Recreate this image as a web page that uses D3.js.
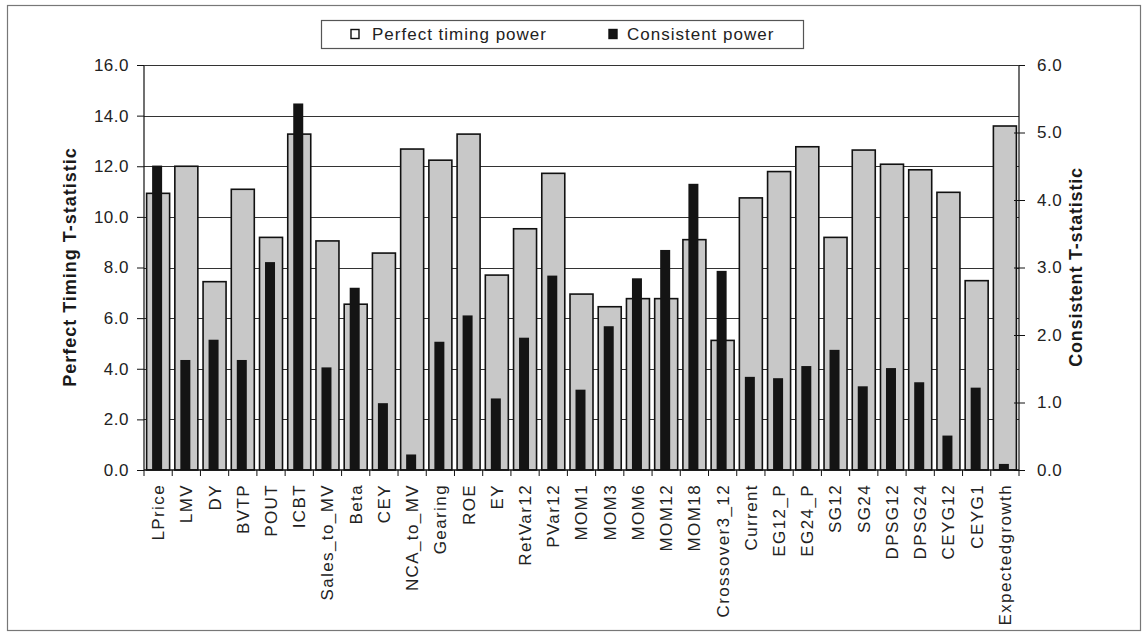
<!DOCTYPE html>
<html>
<head>
<meta charset="utf-8">
<script src="https://cdn.jsdelivr.net/npm/d3@7"></script>
<style>
  html, body { margin: 0; padding: 0; background: #fff; }
  svg { display: block; font-family: "Liberation Sans", Arial, sans-serif; }
</style>
</head>
<body>
<svg id="chart" width="1142" height="633"></svg>
<script>
// Factor names along the x axis
const categories = ["LPrice", "LMV", "DY", "BVTP", "POUT", "ICBT", "Sales_to_MV", "Beta", "CEY",
  "NCA_to_MV", "Gearing", "ROE", "EY", "RetVar12", "PVar12", "MOM1", "MOM3", "MOM6", "MOM12",
  "MOM18", "Crossover3_12", "Current", "EG12_P", "EG24_P", "SG12", "SG24", "DPSG12", "DPSG24",
  "CEYG12", "CEYG1", "Expectedgrowth"];

// Perfect timing T-statistic (left axis)
const perfectTiming = [10.93, 12.0, 7.44, 11.09, 9.19, 13.27, 9.05, 6.55, 8.57, 12.68, 12.24,
  13.27, 7.70, 9.53, 11.72, 6.95, 6.45, 6.77, 6.77, 9.10, 5.12, 10.75, 11.79, 12.77, 9.19,
  12.64, 12.08, 11.86, 10.97, 7.48, 13.59];

// Consistent T-statistic (right axis)
const consistent = [4.51, 1.63, 1.93, 1.63, 3.08, 5.43, 1.52, 2.70, 0.99, 0.23, 1.90, 2.29,
  1.06, 1.96, 2.88, 1.19, 2.13, 2.84, 3.26, 4.24, 2.95, 1.38, 1.36, 1.54, 1.78, 1.24, 1.51,
  1.30, 0.51, 1.22, 0.09];

const leftTicks = [0, 2, 4, 6, 8, 10, 12, 14, 16];
const rightTicks = [0, 1, 2, 3, 4, 5, 6];
const seriesNames = ["Perfect timing power", "Consistent power"];

const svg = d3.select("#chart");
const plot = { left: 144, right: 1019, top: 65, bottom: 470 };

const x = d3.scaleBand().domain(categories).range([plot.left, plot.right]);
const yL = d3.scaleLinear().domain([0, 16]).range([plot.bottom, plot.top]);
const yR = d3.scaleLinear().domain([0, 6]).range([plot.bottom, plot.top]);

// Outer frame
svg.append("rect")
  .attr("x", 7.5).attr("y", 5.5).attr("width", 1133).attr("height", 625)
  .attr("fill", "none").attr("stroke", "#777").attr("stroke-width", 1.2);

// Horizontal gridlines at the left-axis ticks
svg.append("g").selectAll("line").data(leftTicks.filter(d => d > 0)).join("line")
  .attr("x1", plot.left).attr("x2", plot.right)
  .attr("y1", d => Math.round(yL(d)) + 0.5).attr("y2", d => Math.round(yL(d)) + 0.5)
  .attr("stroke", "#333").attr("stroke-width", 1);

// Perfect timing bars (grey, outlined)
const greyW = 23;
svg.append("g").selectAll("rect").data(categories).join("rect")
  .attr("x", (d) => x(d) + x.bandwidth() / 2 - greyW / 2)
  .attr("y", (d, i) => yL(perfectTiming[i]))
  .attr("width", greyW)
  .attr("height", (d, i) => yL(0) - yL(perfectTiming[i]))
  .attr("fill", "#c8c8c8").attr("stroke", "#111").attr("stroke-width", 1.6);

// Consistent bars (black, narrow)
const blackW = 10;
svg.append("g").selectAll("rect").data(categories).join("rect")
  .attr("x", (d) => x(d) + x.bandwidth() / 2 - blackW / 2 - 1)
  .attr("y", (d, i) => yR(consistent[i]))
  .attr("width", blackW)
  .attr("height", (d, i) => yR(0) - yR(consistent[i]))
  .attr("fill", "#141414");

// Left axis
const leftAxis = d3.axisLeft(yL).tickValues(leftTicks).tickFormat(d3.format(".1f"))
  .tickSize(7).tickPadding(8);
const gL = svg.append("g").attr("transform", `translate(${plot.left},0)`).call(leftAxis);
gL.select(".domain").attr("stroke", "#111").attr("stroke-width", 1.2).attr("d", `M0,${plot.bottom}V${plot.top}`);
gL.selectAll(".tick line").attr("stroke", "#111");
gL.selectAll(".tick text").attr("font-size", 17).attr("letter-spacing", 0.5)
  .attr("fill", "#222").attr("font-family", "Liberation Sans, Arial, sans-serif");

// Right axis with crossing tick marks
const rightAxis = d3.axisRight(yR).tickValues(rightTicks).tickFormat(d3.format(".1f"))
  .tickSize(6).tickPadding(12);
const gR = svg.append("g").attr("transform", `translate(${plot.right},0)`).call(rightAxis);
gR.select(".domain").attr("stroke", "#111").attr("stroke-width", 1.2).attr("d", `M0,${plot.bottom}V${plot.top}`);
gR.selectAll(".tick line").attr("stroke", "#111").attr("x1", -5).attr("x2", 6);
gR.selectAll(".tick text").attr("font-size", 17).attr("letter-spacing", 0.5)
  .attr("fill", "#222").attr("font-family", "Liberation Sans, Arial, sans-serif");

// Top border of the plot area
svg.append("line").attr("x1", plot.left).attr("x2", plot.right)
  .attr("y1", plot.top + 0.5).attr("y2", plot.top + 0.5)
  .attr("stroke", "#333").attr("stroke-width", 1);

// Bottom category axis: ticks at band boundaries, rotated labels
svg.append("line").attr("x1", plot.left).attr("x2", plot.right)
  .attr("y1", plot.bottom).attr("y2", plot.bottom)
  .attr("stroke", "#111").attr("stroke-width", 1.4);
const bounds = categories.map(c => x(c)).concat([plot.right]);
svg.append("g").selectAll("line").data(bounds).join("line")
  .attr("x1", d => d).attr("x2", d => d)
  .attr("y1", plot.bottom).attr("y2", plot.bottom + 6)
  .attr("stroke", "#111").attr("stroke-width", 1);
svg.append("g").selectAll("text").data(categories).join("text")
  .attr("transform", d => `translate(${x(d) + x.bandwidth() / 2},484) rotate(-90)`)
  .attr("text-anchor", "end").attr("dy", "0.35em")
  .attr("font-size", 17).attr("letter-spacing", 1.4).attr("fill", "#222")
  .text(d => d);

// Axis titles
svg.append("text")
  .attr("transform", "translate(70,267) rotate(-90)")
  .attr("text-anchor", "middle").attr("dy", "0.35em")
  .attr("font-size", 18).attr("font-weight", "bold").attr("letter-spacing", 1)
  .attr("fill", "#1a1a1a").text("Perfect Timing T-statistic");
svg.append("text")
  .attr("transform", "translate(1076,267) rotate(-90)")
  .attr("text-anchor", "middle").attr("dy", "0.35em")
  .attr("font-size", 18).attr("font-weight", "bold").attr("letter-spacing", 0.8)
  .attr("fill", "#1a1a1a").text("Consistent T-statistic");

// Legend
const lg = svg.append("g");
lg.append("rect").attr("x", 321.5).attr("y", 20.5).attr("width", 482).attr("height", 28)
  .attr("fill", "#fff").attr("stroke", "#555").attr("stroke-width", 1.2);
const legendItems = [
  { name: seriesNames[0], sx: 351, tx: 372, fill: "#fff" },
  { name: seriesNames[1], sx: 609, tx: 627, fill: "#141414" }
];
legendItems.forEach(it => {
  lg.append("rect").attr("x", it.sx).attr("y", 29.5).attr("width", 8).attr("height", 9)
    .attr("fill", it.fill).attr("stroke", "#111").attr("stroke-width", 1.4);
  lg.append("text").attr("x", it.tx).attr("y", 40)
    .attr("font-size", 17).attr("letter-spacing", 1).attr("fill", "#222").text(it.name);
});
</script>
</body>
</html>
